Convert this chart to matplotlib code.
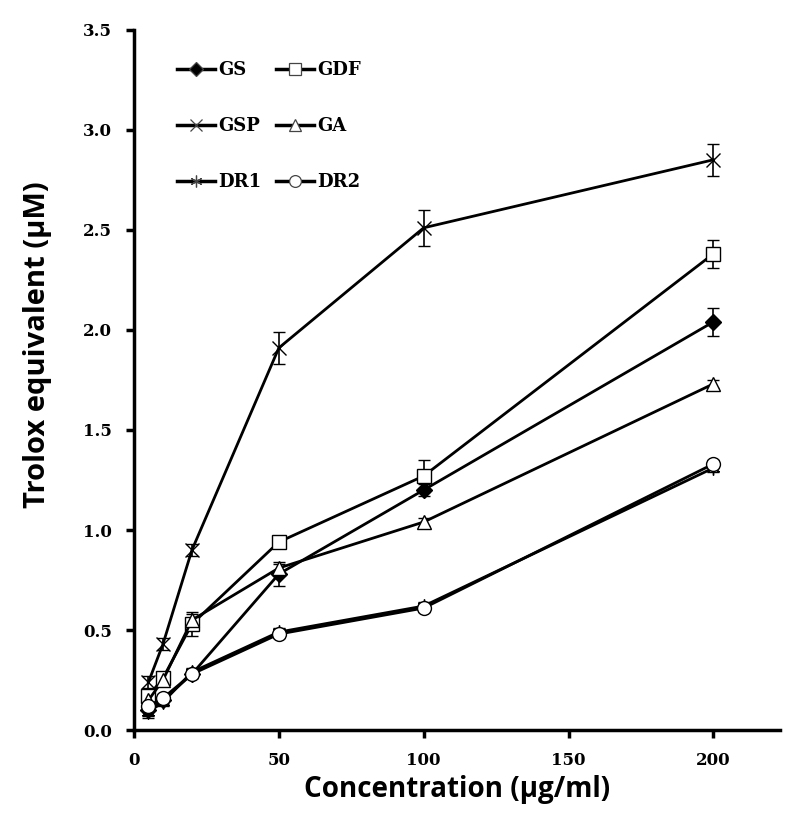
import numpy as np
import matplotlib.pyplot as plt
from matplotlib.lines import Line2D

# Concentration (ug/ml)
conc = [5, 10, 20, 50, 100, 200]

# Trolox equivalent (uM) per extract
gs = [0.10, 0.15, 0.28, 0.78, 1.20, 2.04]
gdf = [0.17, 0.26, 0.53, 0.94, 1.27, 2.38]
gsp = [0.24, 0.43, 0.90, 1.91, 2.51, 2.85]
ga = [0.15, 0.25, 0.55, 0.81, 1.04, 1.73]
dr1 = [0.09, 0.14, 0.29, 0.49, 0.62, 1.31]
dr2 = [0.12, 0.16, 0.28, 0.48, 0.61, 1.33]

# Standard deviations
gs_err = [0.03, 0.02, 0.02, 0.06, 0.03, 0.07]
gdf_err = [0.03, 0.03, 0.06, 0.02, 0.08, 0.07]
gsp_err = [0.03, 0.03, 0.03, 0.08, 0.09, 0.08]
ga_err = [0.02, 0.02, 0.03, 0.02, 0.02, 0.02]
dr1_err = [0.03, 0.02, 0.02, 0.02, 0.02, 0.02]
dr2_err = [0.02, 0.02, 0.02, 0.02, 0.02, 0.02]

tick_font = {'family': 'DejaVu Serif', 'weight': 'bold', 'size': 12}

fig = plt.figure(figsize=(8.0, 8.25), dpi=100)
ax = fig.add_axes([0.1675, 0.115, 0.8075, 0.849])

# legend order is column-wise: left column GS, GSP, DR1 / right column GDF, GA, DR2
series = [
    ('GS', gs, gs_err, 'D', 'black', 8),
    ('GSP', gsp, gsp_err, 'x', 'none', 10),
    ('DR1', dr1, dr1_err, (6, 2, 0), 'none', 10),
    ('GDF', gdf, gdf_err, 's', 'white', 10),
    ('GA', ga, ga_err, '^', 'white', 10),
    ('DR2', dr2, dr2_err, 'o', 'white', 10),
]

handles = []
for name, vals, errs, mk, fc, ms in series:
    ax.errorbar(conc, vals, yerr=errs, color='black', lw=2.0,
                marker=mk, markersize=ms, markerfacecolor=fc,
                markeredgecolor='black', markeredgewidth=1.0,
                ecolor='black', elinewidth=1.2, capsize=4, capthick=1.2)
    handles.append(Line2D([], [], color='black', lw=2.5, marker=mk, markersize=ms * 0.85,
                          markerfacecolor=fc, markeredgecolor='#444444',
                          markeredgewidth=0.9, label=name))

ax.set_xlim(0, 223)
ax.set_ylim(0, 3.5)
ax.set_xticks([0, 50, 100, 150, 200])
ax.set_yticks(np.arange(0, 3.51, 0.5))
ax.set_yticklabels(['%.1f' % v for v in np.arange(0, 3.51, 0.5)], fontdict=tick_font)
ax.set_xticklabels(['0', '50', '100', '150', '200'], fontdict=tick_font)

ax.spines['top'].set_visible(False)
ax.spines['right'].set_visible(False)
ax.spines['left'].set_linewidth(2.5)
ax.spines['bottom'].set_linewidth(2.5)
ax.tick_params(direction='out', length=6, width=2.5, pad=10)

ax.set_xlabel('Concentration (µg/ml)', family='Open Sans', weight='bold', size=20, labelpad=4)
ax.set_ylabel('Trolox equivalent (µM)', family='Open Sans', weight='bold', size=21)
ax.yaxis.set_label_coords(-0.127, 0.55)

ax.legend(handles=handles, loc='upper left', bbox_to_anchor=(0.066, 0.955), ncol=2,
          frameon=False, borderpad=0, borderaxespad=0,
          prop={'family': 'DejaVu Serif', 'weight': 'bold', 'size': 13},
          labelspacing=2.1, handlelength=2.1, handletextpad=0.2, columnspacing=0.8)

fig.savefig('out.png', dpi=100)
